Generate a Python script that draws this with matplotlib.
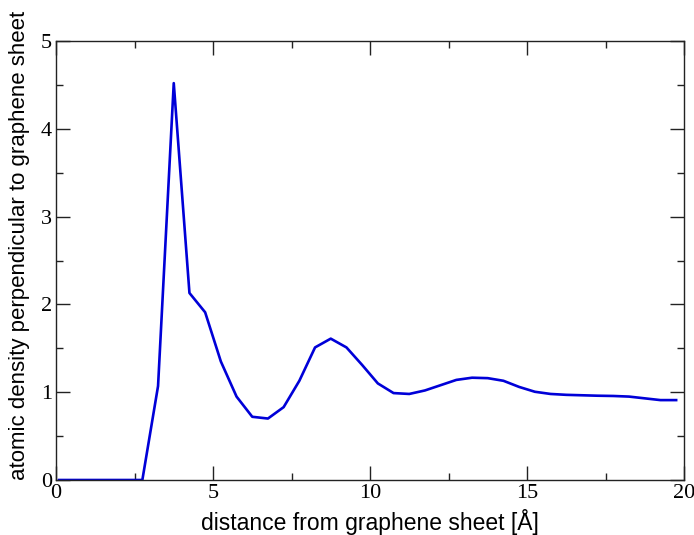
import matplotlib
matplotlib.use("Agg")
import matplotlib.pyplot as plt
from matplotlib.ticker import MultipleLocator

# distance from graphene sheet [Å]
distance = [0.1, 0.75, 1.25, 1.75, 2.25, 2.75, 3.25, 3.75, 4.25, 4.75, 5.25, 5.75,
            6.25, 6.75, 7.25, 7.75, 8.25, 8.75, 9.25, 9.75, 10.25, 10.75,
            11.25, 11.75, 12.25, 12.75, 13.25, 13.75, 14.25, 14.75, 15.25,
            15.75, 16.25, 16.75, 17.25, 17.75, 18.25, 18.75, 19.25, 19.75]
# atomic density perpendicular to graphene sheet
density = [0.0, 0.0, 0.0, 0.0, 0.0, 0.0, 1.07, 4.52, 2.13, 1.91, 1.35, 0.95,
           0.72, 0.70, 0.83, 1.13, 1.51, 1.61, 1.51, 1.31, 1.10, 0.99,
           0.98, 1.02, 1.08, 1.14, 1.165, 1.16, 1.13, 1.06, 1.005,
           0.98, 0.97, 0.965, 0.96, 0.957, 0.95, 0.93, 0.91, 0.91]

x_ticks = [0, 5, 10, 15, 20]
y_ticks = [0, 1, 2, 3, 4, 5]

fig = plt.figure(figsize=(6.94, 5.35), dpi=100)
ax = fig.add_axes([56/694, 55/535, 628/694, 439/535])
ax.plot(distance, density, color="#0000d8", lw=1.9)

ax.set_xlim(0, 20)
ax.set_ylim(0, 5)
ax.set_xticks(x_ticks)
ax.set_yticks(y_ticks)
ax.xaxis.set_minor_locator(MultipleLocator(2.5))
ax.yaxis.set_minor_locator(MultipleLocator(0.5))
ax.tick_params(which="both", direction="in", top=True, right=True, width=1.0, color="#222222")
ax.tick_params(which="major", length=10, pad=3)
ax.tick_params(which="minor", length=5)
for lab in ax.get_xticklabels() + ax.get_yticklabels():
    lab.set_fontfamily("Liberation Serif")
    lab.set_fontsize(16)
for s in ax.spines.values():
    s.set_linewidth(1.0)
    s.set_color("#222222")

ax.set_xlabel("distance from graphene sheet [Å]", fontfamily="Liberation Sans", fontsize=16.5, labelpad=4)
ax.set_ylabel("atomic density perpendicular to graphene sheet", fontfamily="Liberation Sans", fontsize=16)
ax.yaxis.set_label_coords(-0.042, 0.535)

fig.savefig("out.png", dpi=100)
